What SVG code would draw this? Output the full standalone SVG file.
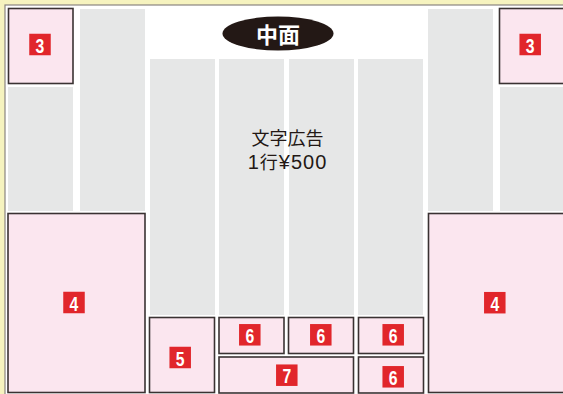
<svg xmlns="http://www.w3.org/2000/svg" width="563" height="394" viewBox="0 0 563 394">
<style>
.col{fill:#e6e7e7}
.box{fill:#fbe6ef;stroke:#3a3232;stroke-width:1.6}
.tag{fill:#e1262b}
.num{fill:#ffffff;font-family:"Liberation Sans",Arial,sans-serif;font-weight:bold;font-size:21px;text-anchor:middle}
.body{fill:#231815;font-family:"Noto Sans CJK JP","Noto Sans CJK SC",sans-serif;font-size:18px;text-anchor:middle}
.lat{font-family:"Liberation Sans",Arial,sans-serif;font-size:20px}
</style>
<defs>
<g id="t"><rect class="tag" x="-10.75" y="-10.75" width="21.5" height="21.5"/></g>
</defs>
<rect x="0" y="0" width="563" height="394" fill="#f6f3bf"/>
<rect x="5" y="5" width="560" height="391" fill="#ffffff" stroke="#8a8580" stroke-width="1.2"/>
<g id="columns">
<rect class="col" x="8" y="87" width="65" height="124"/>
<rect class="col" x="80" y="9" width="65" height="202"/>
<rect class="col" x="150" y="59" width="65" height="256"/>
<rect class="col" x="219" y="59" width="65" height="256"/>
<rect class="col" x="289" y="59" width="65" height="256"/>
<rect class="col" x="358" y="59" width="65" height="256"/>
<rect class="col" x="428" y="9" width="65" height="202"/>
<rect class="col" x="500" y="87" width="70" height="124"/>
</g>
<g id="title">
<ellipse cx="278" cy="33.5" rx="55.5" ry="17" fill="#231815"/>
<text x="278" y="42.5" fill="#ffffff" font-family="Noto Sans CJK JP,Noto Sans CJK SC,sans-serif" font-weight="bold" font-size="22" text-anchor="middle">中面</text>
</g>
<g id="text-ad">
<text class="body" x="287.5" y="145">文字広告</text>
<text class="body" x="287.5" y="169" letter-spacing="1"><tspan class="lat">1</tspan>行<tspan class="lat">¥500</tspan></text>
</g>
<g id="box-3l">
<rect class="box" x="8.5" y="8.5" width="64.5" height="75"/>
<use href="#t" x="40" y="44.5"/>
<text class="num" transform="translate(40 52.5) scale(0.75 1)">3</text>
</g>
<g id="box-3r">
<rect class="box" x="499.5" y="8.5" width="70" height="75"/>
<use href="#t" x="530.2" y="44.5"/>
<text class="num" transform="translate(530.2 52.5) scale(0.75 1)">3</text>
</g>
<g id="box-4l">
<rect class="box" x="8" y="213.5" width="137" height="179"/>
<use href="#t" x="74" y="302.5"/>
<text class="num" transform="translate(74 310.5) scale(0.75 1)">4</text>
</g>
<g id="box-4r">
<rect class="box" x="428.5" y="213.5" width="140" height="179"/>
<use href="#t" x="494.8" y="302.7"/>
<text class="num" transform="translate(494.8 310.7) scale(0.75 1)">4</text>
</g>
<g id="box-5">
<rect class="box" x="149.5" y="317.5" width="65" height="75"/>
<use href="#t" x="180.2" y="357.5"/>
<text class="num" transform="translate(180.2 365.5) scale(0.75 1)">5</text>
</g>
<g id="box-6a">
<rect class="box" x="219" y="317.5" width="65" height="36"/>
<use href="#t" x="249.8" y="334.8"/>
<text class="num" transform="translate(249.8 342.8) scale(0.75 1)">6</text>
</g>
<g id="box-6b">
<rect class="box" x="288.5" y="317.5" width="65" height="36"/>
<use href="#t" x="320.8" y="334.8"/>
<text class="num" transform="translate(320.8 342.8) scale(0.75 1)">6</text>
</g>
<g id="box-6c">
<rect class="box" x="358.5" y="317.5" width="65" height="36"/>
<use href="#t" x="393.2" y="334.8"/>
<text class="num" transform="translate(393.2 342.8) scale(0.75 1)">6</text>
</g>
<g id="box-7">
<rect class="box" x="219" y="357" width="134.5" height="36"/>
<use href="#t" x="286.8" y="375.2"/>
<text class="num" transform="translate(286.8 383.2) scale(0.75 1)">7</text>
</g>
<g id="box-6d">
<rect class="box" x="358.5" y="357" width="65" height="36"/>
<use href="#t" x="393.2" y="376.8"/>
<text class="num" transform="translate(393.2 384.8) scale(0.75 1)">6</text>
</g>
<g id="connectors"/>
</svg>
